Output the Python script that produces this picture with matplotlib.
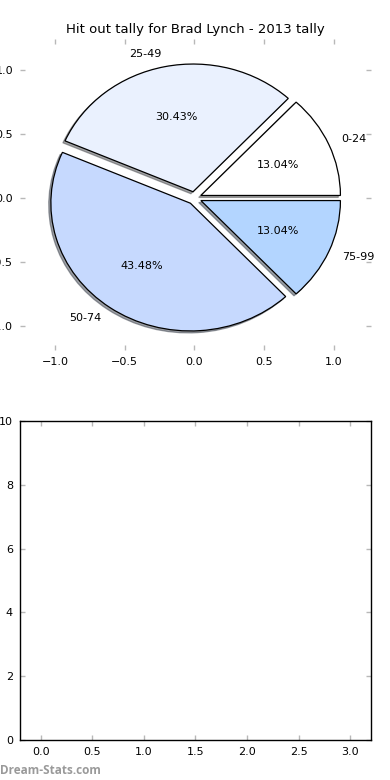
import matplotlib
matplotlib.use('Agg')
import matplotlib.pyplot as plt
import numpy as np

# hit out tally buckets for the season
buckets = ['0-24', '25-49', '50-74', '75-99']
counts = [3, 7, 10, 3]
slice_colors = ['#FFFFFF', '#EAF1FE', '#C6D9FE', '#B3D5FF']
explode = [0.05, 0.05, 0.05, 0.05]

pie_ticks = [-1.0, -0.5, 0.0, 0.5, 1.0]
empty_xticks = [0.0, 0.5, 1.0, 1.5, 2.0, 2.5, 3.0]
empty_yticks = [0, 2, 4, 6, 8, 10]

plt.rcParams['font.size'] = 8

fig = plt.figure(figsize=(3.9, 7.8), dpi=100)

"""top panel: the pie, stretched to fill the axes like old matplotlib did"""
ax1 = fig.add_axes([20 / 390, 1 - 350 / 780, 351 / 390, 311 / 780])
wedges, texts, autotexts = ax1.pie(counts, labels=buckets, colors=slice_colors,
                                   explode=explode, autopct='%1.2f%%',
                                   shadow={'ox': -0.011, 'oy': -0.011, 'shade': 0.7},
                                   wedgeprops={'edgecolor': 'black', 'linewidth': 0.9},
                                   textprops={'fontsize': 8})
ax1.set_aspect('auto')
ax1.set_frame_on(False)
ax1.set_xlim(-1.25, 1.265)
ax1.set_ylim(-1.19, 1.245)
ax1.set_xticks(pie_ticks)
ax1.set_yticks(pie_ticks)
ax1.set_title('Hit out tally for Brad Lynch - 2013 tally', fontsize=9.5, pad=4)

"""bottom panel: empty axes"""
ax2 = fig.add_axes([20 / 390, 1 - 740 / 780, 351 / 390, 319 / 780])
ax2.set_xlim(-0.2, 3.2)
ax2.set_ylim(0, 10)
ax2.set_xticks(empty_xticks)
ax2.set_yticks(empty_yticks)
for sp in ax2.spines.values():
    sp.set_linewidth(1)
    sp.set_color('black')

for ax in (ax1, ax2):
    ax.tick_params(direction='in', length=3.5, width=1, color='#b8b8b8',
                   top=True, right=True, labelsize=8, pad=5)

fig.text(0.0, 1 - 770 / 780, 'Dream-Stats.com', fontsize=8.5, color='#9a9a9a',
         fontweight='bold', va='center', ha='left', family=['Open Sans', 'DejaVu Sans'])

plt.savefig('out.png', format='png')
plt.close()
